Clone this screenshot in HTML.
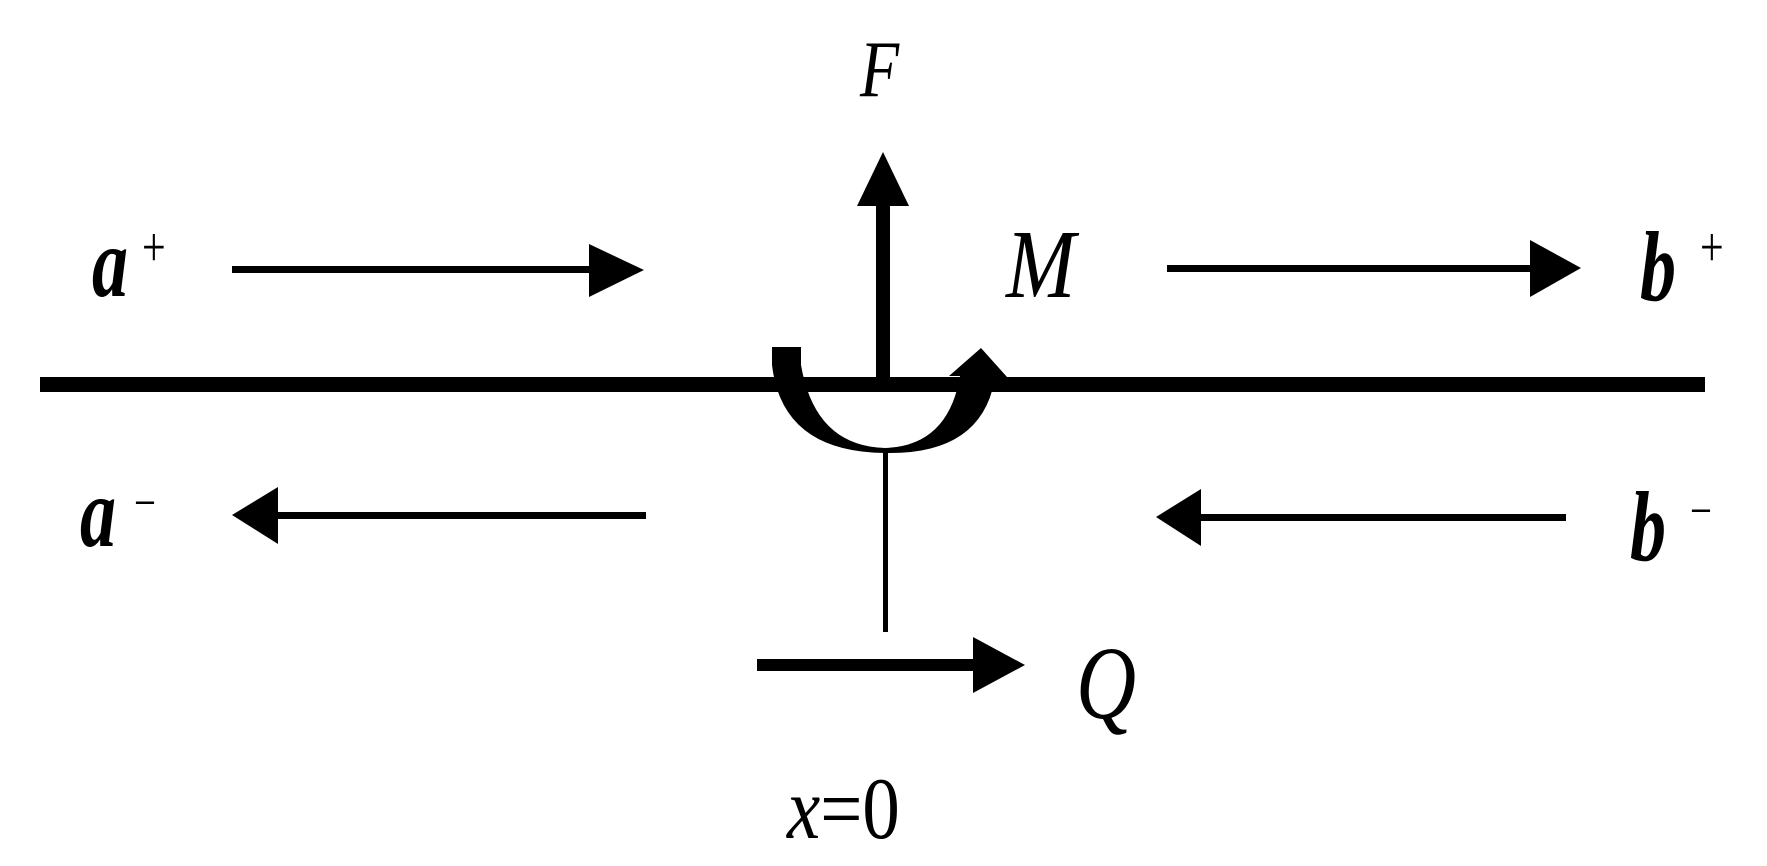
<!DOCTYPE html>
<html><head><meta charset="utf-8"><style>html,body{margin:0;padding:0;background:#fff}svg{display:block}text{font-family:"Liberation Serif","Times New Roman",serif}</style></head>
<body>
<svg width="1767" height="866" viewBox="0 0 1767 866" xmlns="http://www.w3.org/2000/svg">
<g fill="#000" stroke="none">
<rect x="40" y="377" width="1665" height="15"/>
<rect x="876" y="200" width="14" height="180"/>
<polygon points="883,152 857,206 909,206"/>
<path d="M772,347 L801,347 L801,365 Q815,446 885,448 Q948,446 960,376 L949,376 L981,348 L1007,377 L995,378 Q982,455 885,453 Q782,452 772,365 Z"/>
<rect x="883" y="450" width="5" height="182"/>
<rect x="232" y="266" width="360" height="7"/>
<polygon points="589,244 644,270 589,297"/>
<rect x="1167" y="265" width="367" height="7"/>
<polygon points="1530,240 1581,268 1530,297"/>
<rect x="272" y="512" width="374" height="7"/>
<polygon points="278,487 232,515 278,544"/>
<rect x="1196" y="514" width="370" height="7"/>
<polygon points="1201,489 1156,517 1201,546"/>
<rect x="757" y="659" width="220" height="12"/>
<polygon points="973,637 1025,665 973,693"/>
</g>
<g fill="#000">
<text transform="translate(860,96) scale(0.8,1)" font-size="80" font-style="italic">F</text>
<text transform="translate(1006,297) scale(0.85,1)" font-size="98" font-style="italic">M</text>
<text transform="translate(1076,718) scale(0.8,1)" font-size="104" font-style="italic">Q</text>
<text transform="translate(92,296) scale(0.72,1)" font-size="100" font-style="italic" font-weight="bold">a</text>
<text transform="translate(142,266) scale(0.75,1)" font-size="56">+</text>
<text transform="translate(1640,300) scale(0.72,1)" font-size="100" font-style="italic" font-weight="bold">b</text>
<text transform="translate(1700,266) scale(0.75,1)" font-size="56">+</text>
<text transform="translate(80,546) scale(0.72,1)" font-size="100" font-style="italic" font-weight="bold">a</text>
<text transform="translate(134,520) scale(0.75,1)" font-size="52">−</text>
<text transform="translate(1630,560) scale(0.72,1)" font-size="100" font-style="italic" font-weight="bold">b</text>
<text transform="translate(1690,528) scale(0.75,1)" font-size="52">−</text>
<text transform="translate(787,838) scale(0.85,1)" font-size="88"><tspan font-style="italic">x</tspan>=0</text>
</g>
</svg>
</body></html>
